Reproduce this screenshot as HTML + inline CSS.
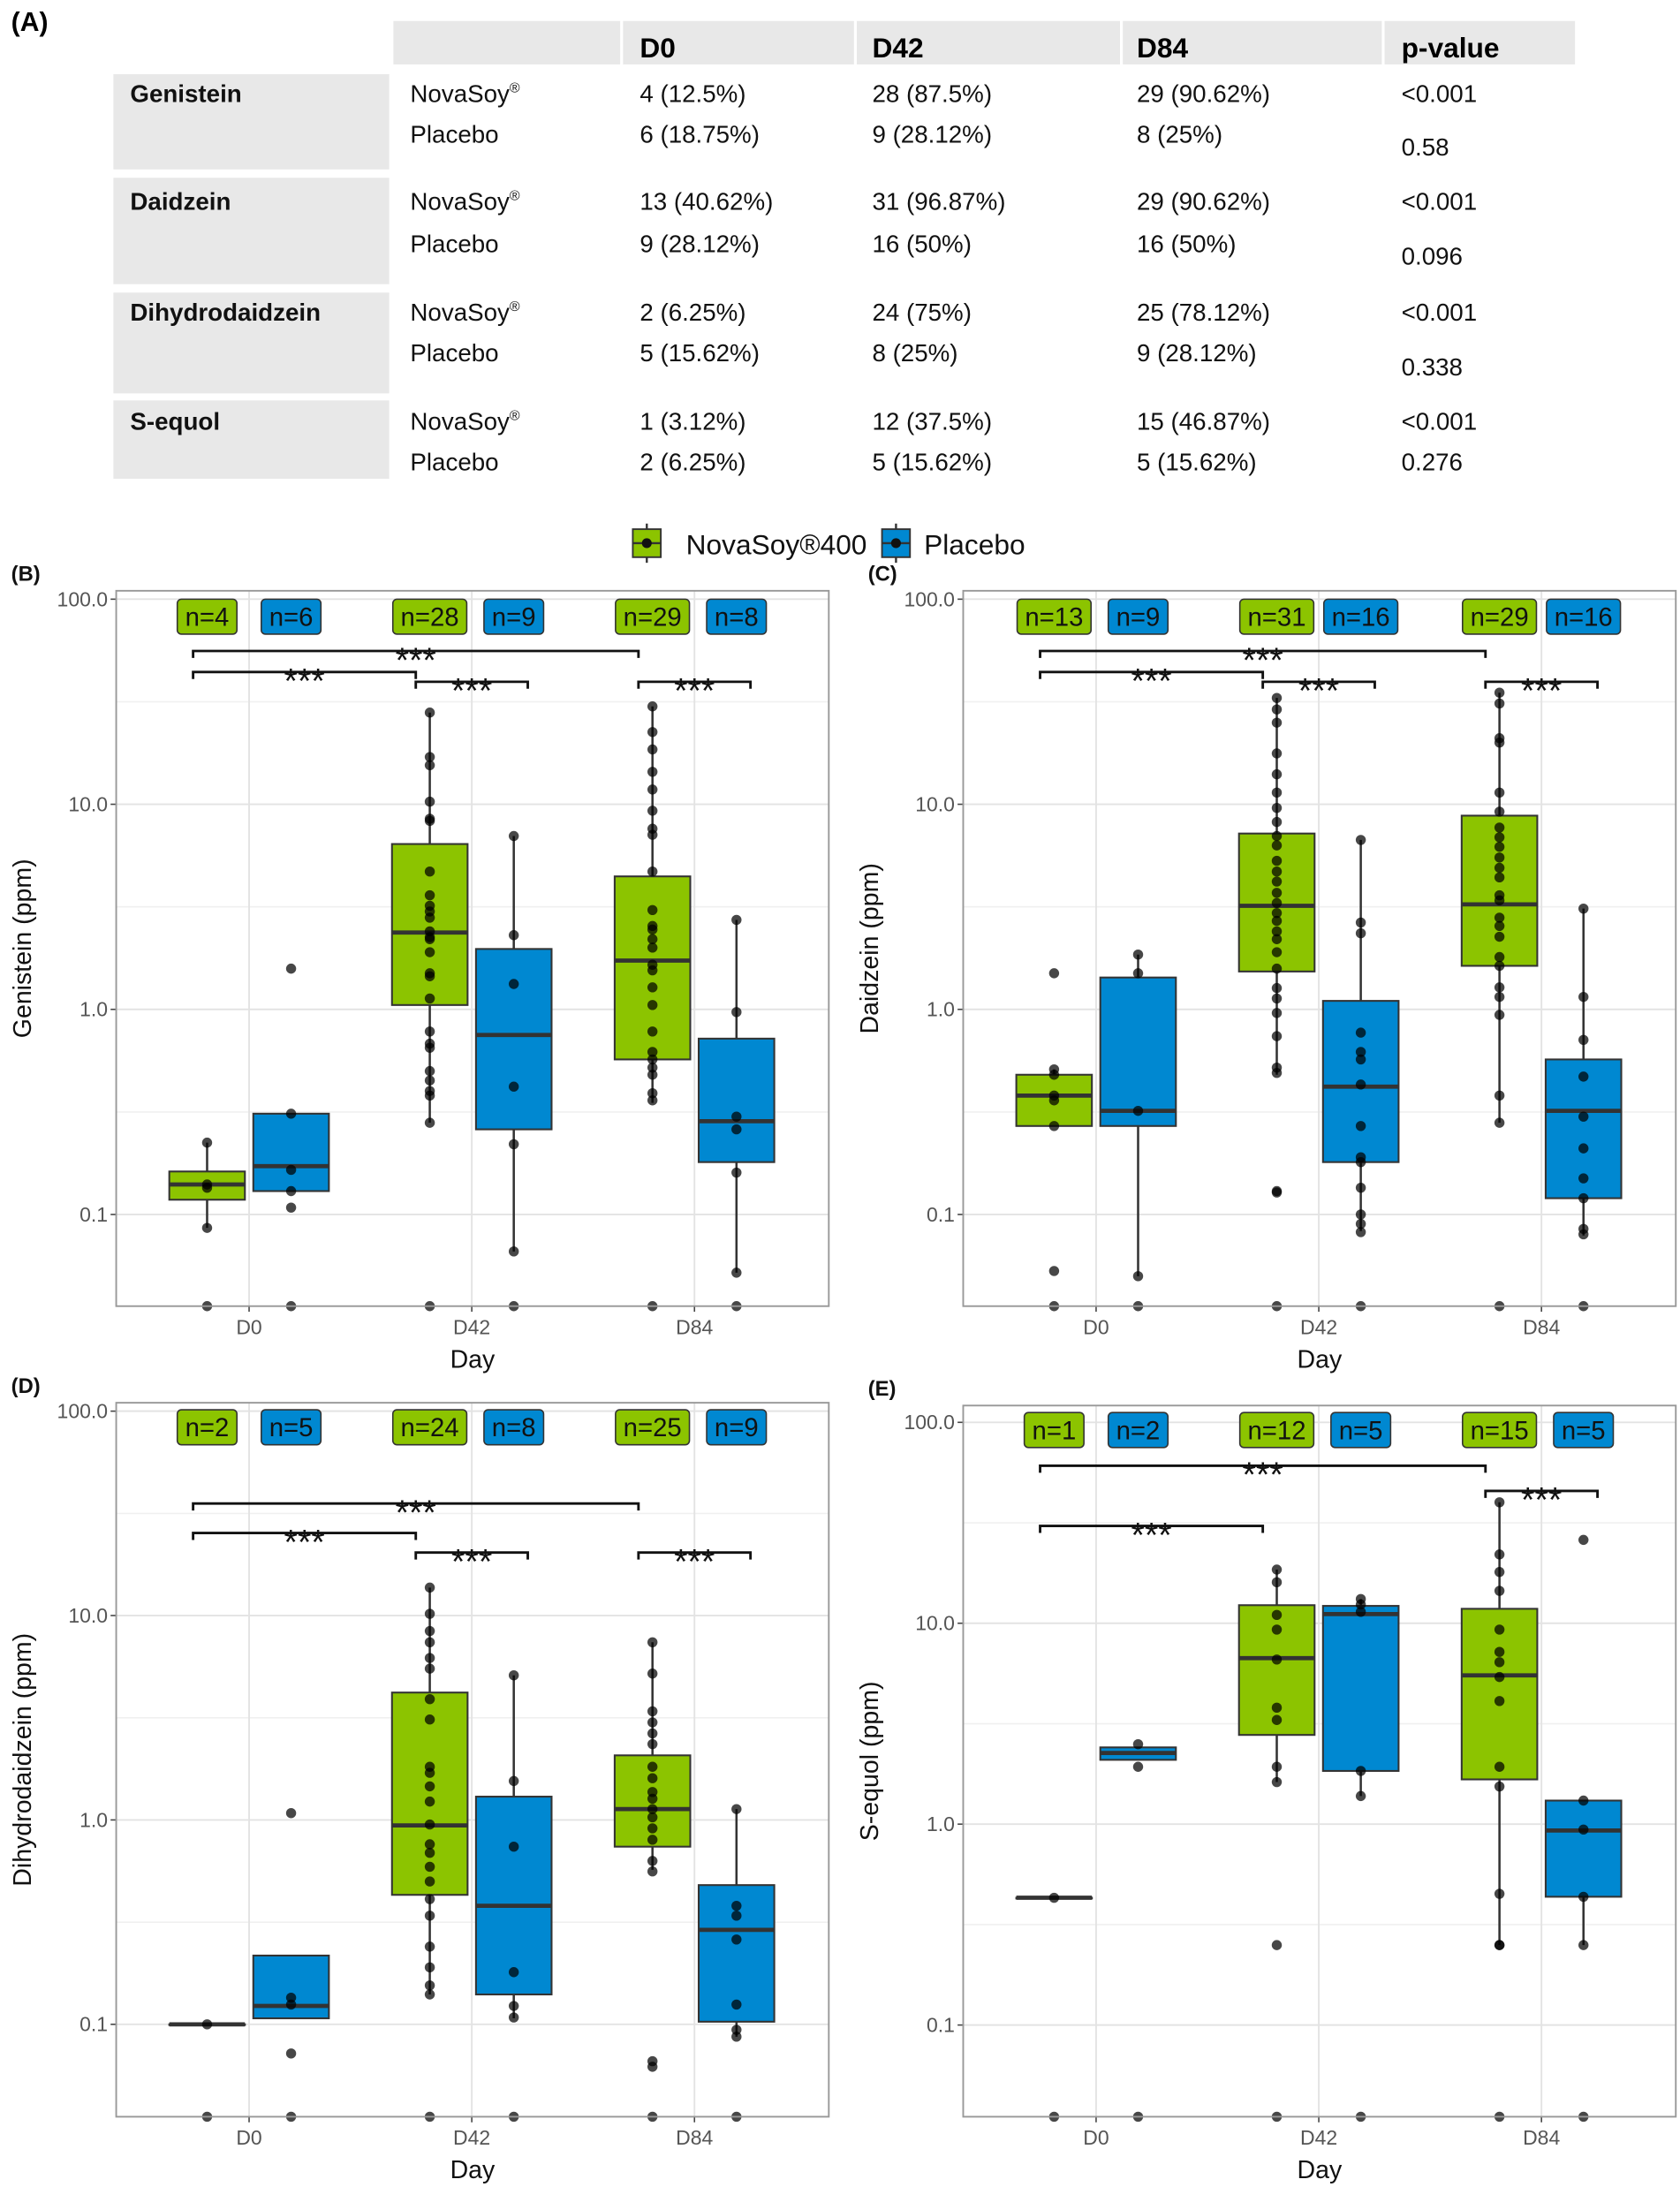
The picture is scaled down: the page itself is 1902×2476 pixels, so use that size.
<!DOCTYPE html>
<html><head><meta charset="utf-8">
<style>
html,body{margin:0;padding:0;background:#fff;}
svg{display:block;font-family:"Liberation Sans",Arial,sans-serif;}
</style></head>
<body>
<svg id="fig" width="1902" height="2476" viewBox="0 0 1200 1562.2" preserveAspectRatio="none" xmlns="http://www.w3.org/2000/svg">
<g id="table">
  <text x="8" y="22" font-size="19" font-weight="bold">(A)</text>
  <rect x="281" y="15" width="162" height="31" fill="#e8e8e8"/>
  <rect x="445" y="15" width="165" height="31" fill="#e8e8e8"/>
  <rect x="612" y="15" width="188" height="31" fill="#e8e8e8"/>
  <rect x="802" y="15" width="185" height="31" fill="#e8e8e8"/>
  <rect x="989" y="15" width="136" height="31" fill="#e8e8e8"/>
  <g font-size="20" font-weight="bold">
    <text x="457" y="41">D0</text>
    <text x="623" y="41">D42</text>
    <text x="812" y="41">D84</text>
    <text x="1001" y="41">p-value</text>
  </g>
  <rect x="81" y="53" width="197" height="68" fill="#e8e8e8"/>
  <rect x="81" y="127" width="197" height="76" fill="#e8e8e8"/>
  <rect x="81" y="209" width="197" height="72" fill="#e8e8e8"/>
  <rect x="81" y="286" width="197" height="56" fill="#e8e8e8"/>
  <g font-size="17.5" fill="#111">
    <text x="93" y="73" font-weight="bold">Genistein</text>
    <text x="293" y="73">NovaSoy<tspan font-size="10" dy="-7">®</tspan></text>
    <text x="293" y="102">Placebo</text>
    <text x="457" y="73">4 (12.5%)</text>
    <text x="457" y="102">6 (18.75%)</text>
    <text x="623" y="73">28 (87.5%)</text>
    <text x="623" y="102">9 (28.12%)</text>
    <text x="812" y="73">29 (90.62%)</text>
    <text x="812" y="102">8 (25%)</text>
    <text x="1001" y="73">&lt;0.001</text>
    <text x="1001" y="111">0.58</text>

    <text x="93" y="150" font-weight="bold">Daidzein</text>
    <text x="293" y="150">NovaSoy<tspan font-size="10" dy="-7">®</tspan></text>
    <text x="293" y="180">Placebo</text>
    <text x="457" y="150">13 (40.62%)</text>
    <text x="457" y="180">9 (28.12%)</text>
    <text x="623" y="150">31 (96.87%)</text>
    <text x="623" y="180">16 (50%)</text>
    <text x="812" y="150">29 (90.62%)</text>
    <text x="812" y="180">16 (50%)</text>
    <text x="1001" y="150">&lt;0.001</text>
    <text x="1001" y="189">0.096</text>

    <text x="93" y="229" font-weight="bold">Dihydrodaidzein</text>
    <text x="293" y="229">NovaSoy<tspan font-size="10" dy="-7">®</tspan></text>
    <text x="293" y="258">Placebo</text>
    <text x="457" y="229">2 (6.25%)</text>
    <text x="457" y="258">5 (15.62%)</text>
    <text x="623" y="229">24 (75%)</text>
    <text x="623" y="258">8 (25%)</text>
    <text x="812" y="229">25 (78.12%)</text>
    <text x="812" y="258">9 (28.12%)</text>
    <text x="1001" y="229">&lt;0.001</text>
    <text x="1001" y="268">0.338</text>

    <text x="93" y="307" font-weight="bold">S-equol</text>
    <text x="293" y="307">NovaSoy<tspan font-size="10" dy="-7">®</tspan></text>
    <text x="293" y="336">Placebo</text>
    <text x="457" y="307">1 (3.12%)</text>
    <text x="457" y="336">2 (6.25%)</text>
    <text x="623" y="307">12 (37.5%)</text>
    <text x="623" y="336">5 (15.62%)</text>
    <text x="812" y="307">15 (46.87%)</text>
    <text x="812" y="336">5 (15.62%)</text>
    <text x="1001" y="307">&lt;0.001</text>
    <text x="1001" y="336">0.276</text>
  </g>
</g>
<g id="legend">
  <g>
    <line x1="462" y1="374" x2="462" y2="402" stroke="#333" stroke-width="1.5"/>
    <rect x="452" y="378" width="20" height="20" fill="#8cc400" stroke="#333" stroke-width="1.2"/>
    <line x1="452" y1="388" x2="472" y2="388" stroke="#333" stroke-width="1.5"/>
    <circle cx="462" cy="388" r="3.5" fill="#111"/>
    <text x="490" y="396" font-size="20" fill="#111">NovaSoy®400</text>
  </g>
  <g>
    <line x1="640" y1="374" x2="640" y2="402" stroke="#333" stroke-width="1.5"/>
    <rect x="630" y="378" width="20" height="20" fill="#0088d1" stroke="#333" stroke-width="1.2"/>
    <line x1="630" y1="388" x2="650" y2="388" stroke="#333" stroke-width="1.5"/>
    <circle cx="640" cy="388" r="3.5" fill="#111"/>
    <text x="660" y="396" font-size="20" fill="#111">Placebo</text>
  </g>
</g>
<g id="panels"></g>
</svg>
<script>
// ---- shared ----
const days = ["D0", "D42", "D84"];
const minorBreaks = [31.6, 3.16, 0.316];
const majorBreaks = [100, 10, 1, 0.1];
const majorLabels = ["100.0", "10.0", "1.0", "0.1"];

// ---- Panel B: Genistein ----  box stats per day: [lowWhisker, q1, median, q3, highWhisker]
const genNovaBox = [[0.086,0.118,0.14,0.162,0.224],[0.28,1.05,2.37,6.4,28],[0.35,0.57,1.73,4.45,30]];
const genPlacBox = [[0.13,0.13,0.172,0.31,0.31],[0.066,0.26,0.75,1.97,7.0],[0.052,0.18,0.285,0.72,2.73]];
const genNovaPts = [[0.224,0.14,0.135,0.086,0],
  [28,17,15.5,10.3,8.5,8.3,4.7,3.6,3.2,3.0,2.8,2.4,2.25,2.2,1.9,1.5,1.45,1.13,0.78,0.68,0.65,0.5,0.45,0.4,0.38,0.28,0],
  [30,22.5,18.5,14.4,11.8,9.3,7.6,7.1,4.7,3.05,2.55,2.45,2.2,2.0,1.65,1.55,1.28,1.05,0.78,0.62,0.57,0.52,0.48,0.39,0.36,0]];
const genPlacPts = [[1.58,0.31,0.165,0.13,0.108,0],[7.0,2.3,1.33,0.42,0.22,0.066,0],[2.73,0.97,0.30,0.26,0.16,0.052,0]];
const genN = [[4,6],[28,9],[29,8]];

// ---- Panel C: Daidzein ----
const daiNovaBox = [[0.27,0.27,0.38,0.48,0.51],[0.48,1.53,3.2,7.2,33],[0.28,1.63,3.25,8.8,35]];
const daiPlacBox = [[0.05,0.27,0.32,1.43,1.85],[0.083,0.18,0.42,1.1,6.7],[0.079,0.12,0.32,0.57,3.1]];
const daiNovaPts = [[1.5,0.51,0.48,0.38,0.36,0.27,0.053,0],
  [33,29,25,17.7,14,11.4,9.6,8.2,7.0,6.3,5.3,4.7,4.2,3.7,3.3,2.95,2.7,2.4,2.2,1.9,1.58,1.27,1.13,0.96,0.74,0.52,0.49,0.13,0.128,0],
  [35,31,21,20,11.4,9.2,7.7,6.9,6.2,5.5,4.9,4.4,3.6,3.4,2.8,2.55,2.26,1.8,1.63,1.28,1.15,0.94,0.38,0.28,0]];
const daiPlacPts = [[1.85,1.5,0.32,0.05,0],[6.7,2.65,2.35,0.77,0.62,0.57,0.43,0.27,0.19,0.18,0.135,0.1,0.09,0.082,0],[3.1,1.15,0.71,0.47,0.3,0.21,0.15,0.12,0.085,0.08,0]];
const daiN = [[13,9],[31,16],[29,16]];

// ---- Panel D: Dihydrodaidzein ----
const dhdNovaBox = [[0.1,0.1,0.1,0.1,0.1],[0.14,0.43,0.94,4.2,13.7],[0.57,0.74,1.13,2.07,7.4]];
const dhdPlacBox = [[0.107,0.107,0.123,0.217,0.217],[0.107,0.14,0.38,1.3,5.1],[0.087,0.103,0.29,0.48,1.13]];
const dhdNovaPts = [[0.1,0],
  [13.7,10.2,8.4,7.4,6.2,5.5,3.9,3.1,1.82,1.7,1.46,1.23,0.95,0.76,0.69,0.59,0.5,0.41,0.34,0.24,0.19,0.155,0.14,0],
  [7.4,5.2,3.4,3.0,2.65,2.35,1.82,1.6,1.37,1.27,1.13,1.03,0.91,0.8,0.63,0.56,0.066,0.062,0]];
const dhdPlacPts = [[1.08,0.135,0.125,0.072,0],[5.1,1.55,0.74,0.18,0.123,0.108,0],[1.13,0.38,0.34,0.26,0.125,0.094,0.087,0]];
const dhdN = [[2,5],[24,8],[25,9]];

// ---- Panel E: S-equol ----
const seqNovaBox = [[0.43,0.43,0.43,0.43,0.43],[1.62,2.78,6.7,12.3,18.5],[0.25,1.67,5.5,11.8,40]];
const seqPlacBox = [[2.09,2.09,2.26,2.41,2.41],[1.38,1.84,11.1,12.2,13.2],[0.25,0.435,0.93,1.31,1.31]];
const seqNovaPts = [[0.43,0],[18.5,16,11,9.3,6.6,3.8,3.3,1.93,1.62,0.25,0],[40,22,18,14.5,9.3,7.2,6.4,5.4,4.1,1.93,1.54,0.45,0.25,0.25,0]];
const seqPlacPts = [[2.5,1.93,0],[13.2,12.4,11.4,1.84,1.38,0],[26,1.31,0.94,0.435,0.25,0]];
const seqN = [[1,2],[12,5],[15,5]];

const GREEN = "#8cc400", BLUE = "#0088d1";
const NS = "http://www.w3.org/2000/svg";
const root = document.getElementById("panels");

function mk(tag, attrs, parent){
  const e = document.createElementNS(NS, tag);
  for (const k in attrs) e.setAttribute(k, attrs[k]);
  (parent||root).appendChild(e);
  return e;
}

function drawPanel(cfg){
  const g = mk("g", {});
  
  
  const L = cfg.left, R = cfg.right, T = cfg.top, B = cfg.bottom;
  const yOf = v => { if (v <= 0) return B; const y = cfg.y1 - Math.log10(v) * cfg.dec; return Math.min(y, B); };
  const xDay = i => L + (R - L) * (0.1865 + i * 0.3125);
  const xGrp = (i, grp) => xDay(i) + (grp === 0 ? -30 : 30);

  const pl = mk("text", {x: cfg.labelX, y: T - 7, "font-size": 15, "font-weight": "bold", fill: "#111"}, g);
  pl.textContent = cfg.label;
  
  

  minorBreaks.forEach(v => {
    const y = yOf(v);
    const ln = mk("line", {x1: L, x2: R, y1: y, y2: y, stroke: "#f0f0f0", "stroke-width": 1}, g);
    
    
  });
  majorBreaks.forEach((v, k) => {
    const y = yOf(v);
    const ln = mk("line", {x1: L, x2: R, y1: y, y2: y, stroke: "#e3e3e3", "stroke-width": 1.2}, g);
    
    
    const tk = mk("line", {x1: L - 4, x2: L, y1: y, y2: y, stroke: "#444", "stroke-width": 1}, g);
    
    
    const t = mk("text", {x: L - 6, y: y + 5, "font-size": 14.5, fill: "#555", "text-anchor": "end"}, g);
    t.textContent = majorLabels[k];
    
    
  });
  days.forEach((d, i) => {
    const x = xDay(i);
    const ln = mk("line", {x1: x, x2: x, y1: T, y2: B, stroke: "#e3e3e3", "stroke-width": 1.2}, g);
    
    
    const tk = mk("line", {x1: x, x2: x, y1: B, y2: B + 4, stroke: "#444", "stroke-width": 1}, g);
    
    
    const t = mk("text", {x: x, y: B + 20, "font-size": 14.5, fill: "#555", "text-anchor": "middle"}, g);
    t.textContent = d;
    
    
  });
  const xt = mk("text", {x: (L + R) / 2, y: B + 44, "font-size": 18, fill: "#111", "text-anchor": "middle"}, g);
  xt.textContent = "Day";
  
  
  const yx = cfg.yTitleX, yy = (T + B) / 2;
  const yt = mk("text", {x: yx, y: yy, "font-size": 18, fill: "#111", "text-anchor": "middle", transform: `rotate(-90 ${yx} ${yy})`}, g);
  yt.textContent = cfg.yTitle;
  
  

  const groups = [{box: cfg.novaBox, pts: cfg.novaPts, col: GREEN, nm: "novasoy"}, {box: cfg.placBox, pts: cfg.placPts, col: BLUE, nm: "placebo"}];
  groups.forEach((grp, gi) => {
    grp.box.forEach((s, i) => {
      const cx = xGrp(i, gi), w = 54;
      const [lo, q1, md, q3, hi] = s;
      const wk = mk("line", {x1: cx, x2: cx, y1: yOf(hi), y2: yOf(lo), stroke: "#333", "stroke-width": 1.6}, g);
      
      
      const r = mk("rect", {x: cx - w / 2, y: yOf(q3), width: w, height: Math.max(yOf(q1) - yOf(q3), 0.5), fill: grp.col, stroke: "#333", "stroke-width": 1.3}, g);
      
      
      const m = mk("line", {x1: cx - w / 2, x2: cx + w / 2, y1: yOf(md), y2: yOf(md), stroke: "#333", "stroke-width": 3}, g);
      
      
    });
  });
  groups.forEach((grp, gi) => {
    grp.pts.forEach((arr, i) => {
      const cx = xGrp(i, gi);
      arr.forEach(v => {
        const c = mk("circle", {cx: cx, cy: yOf(v), r: 3.6, fill: "#000", "fill-opacity": 0.72}, g);
        
        
      });
    });
  });

  cfg.n.forEach((pair, i) => {
    pair.forEach((nv, gi) => {
      const label = "n=" + nv;
      const cx = xGrp(i, gi);
      const w = label.length * 10.2 + 12;
      const ty = cfg.nTop;
      const r = mk("rect", {x: cx - w / 2, y: ty, width: w, height: 25, rx: 3, fill: gi === 0 ? GREEN : BLUE, stroke: "#333", "stroke-width": 1}, g);
      
      
      const t = mk("text", {x: cx, y: ty + 19, "font-size": 18.5, fill: "#111", "text-anchor": "middle"}, g);
      t.textContent = label;
      
      
    });
  });

  cfg.brackets.forEach(b => {
    const x1 = xGrp(b[0], b[1]) + b[2], x2 = xGrp(b[3], b[4]) + b[5], y = b[6];
    const p = mk("path", {d: `M${x1} ${y + 5}V${y}H${x2}V${y + 5}`, fill: "none", stroke: "#111", "stroke-width": 1.8}, g);
    
    
    const t = mk("text", {x: (x1 + x2) / 2, y: y + 15, "font-size": 25, fill: "#111", "text-anchor": "middle"}, g);
    t.textContent = "***";
    
    
  });

  const fr = mk("rect", {x: L, y: T, width: R - L, height: B - T, fill: "none", stroke: "#999", "stroke-width": 1.2}, g);
  
  
}

const bracketsTop = [[0,0,-10,2,0,-10,465],[0,0,-10,1,0,-10,480],[1,0,-10,1,1,10,487],[2,0,-10,2,1,10,487]];

drawPanel({name: "panel-b-genistein", label: "(B)", labelX: 8, left: 83, right: 592, top: 422, bottom: 933, y1: 721, dec: 146.5, yTitle: "Genistein (ppm)", yTitleX: 22, nTop: 428,
  novaBox: genNovaBox, placBox: genPlacBox, novaPts: genNovaPts, placPts: genPlacPts, n: genN, brackets: bracketsTop});
drawPanel({name: "panel-c-daidzein", label: "(C)", labelX: 620, left: 688, right: 1197, top: 422, bottom: 933, y1: 721, dec: 146.5, yTitle: "Daidzein (ppm)", yTitleX: 627, nTop: 428,
  novaBox: daiNovaBox, placBox: daiPlacBox, novaPts: daiNovaPts, placPts: daiPlacPts, n: daiN, brackets: bracketsTop});
drawPanel({name: "panel-d-dihydrodaidzein", label: "(D)", labelX: 8, left: 83, right: 592, top: 1002, bottom: 1512, y1: 1300, dec: 146, yTitle: "Dihydrodaidzein (ppm)", yTitleX: 22, nTop: 1007,
  novaBox: dhdNovaBox, placBox: dhdPlacBox, novaPts: dhdNovaPts, placPts: dhdPlacPts, n: dhdN,
  brackets: [[0,0,-10,2,0,-10,1074],[0,0,-10,1,0,-10,1095],[1,0,-10,1,1,10,1109],[2,0,-10,2,1,10,1109]]});
drawPanel({name: "panel-e-sequol", label: "(E)", labelX: 620, left: 688, right: 1197, top: 1004, bottom: 1512, y1: 1303, dec: 143.5, yTitle: "S-equol (ppm)", yTitleX: 627, nTop: 1009,
  novaBox: seqNovaBox, placBox: seqPlacBox, novaPts: seqNovaPts, placPts: seqPlacPts, n: seqN,
  brackets: [[0,0,-10,2,0,-10,1047],[0,0,-10,1,0,-10,1090],[2,0,-10,2,1,10,1065]]});
</script>
</body></html>
